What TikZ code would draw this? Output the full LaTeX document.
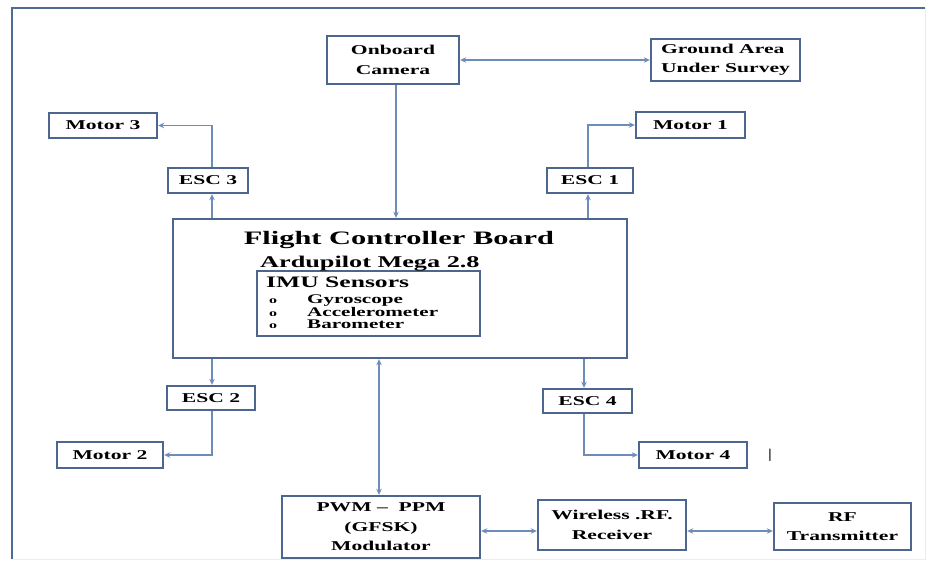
\documentclass[tikz,border=0pt]{standalone}
\usepackage{fontspec}
\setmainfont{Liberation Serif}[FakeStretch=1.6]
\usetikzlibrary{arrows.meta}
\definecolor{boxc}{HTML}{4C6690}
\definecolor{linec}{HTML}{6D8DB8}
\definecolor{framec}{HTML}{4F6A94}
\newcommand\myfs[2]{\fontsize{#1}{#2}\selectfont\bfseries}
\newcommand\mybul{\makebox[38pt][l]{\fontsize{10}{10}\selectfont o}}
\begin{document}
\begin{tikzpicture}[x=1pt,y=-1pt,
  box/.style={draw=boxc, line width=2.4pt, fill=white, inner sep=0pt, align=center, font=\myfs{13.5}{19.5}},
  conn/.style={draw=linec, line width=1.3pt, -{Stealth[length=6pt,width=5.5pt]}},
  both/.style={draw=linec, line width=1.3pt, {Stealth[length=6pt,width=5.5pt]}-{Stealth[length=6pt,width=5.5pt]}},
  txt/.style={inner sep=0pt}]
\useasboundingbox (0,0) rectangle (941,562);
\fill[white] (0,0) rectangle (941,562);
% frame
\draw[framec, line width=2.2pt] (12,559) -- (12,8) -- (925,8);
\draw[gray!15, line width=1pt] (925,8) -- (925,559) -- (12,559);
% boxes
\node[box, minimum width=132pt, minimum height=48pt] (cam) at (393,60) {Onboard\\Camera};
\node[box, minimum width=149pt, minimum height=42pt, align=left] (ground) at (725.5,60) {Ground Area\\Under Survey};
\node[box, minimum width=108pt, minimum height=25pt] (m3) at (103,125.5) {Motor 3};
\node[box, minimum width=80pt, minimum height=25pt] (e3) at (208,180.5) {ESC 3};
\node[box, minimum width=109pt, minimum height=26pt] (m1) at (690.5,125) {Motor 1};
\node[box, minimum width=86pt, minimum height=25pt] (e1) at (590,180.5) {ESC 1};
\node[box, minimum width=454pt, minimum height=139pt] (fcb) at (400,288.5) {};
\node[box, minimum width=223pt, minimum height=65pt] (imu) at (368.5,303.5) {};
\node[box, minimum width=88pt, minimum height=24pt] (e2) at (211,398) {ESC 2};
\node[box, minimum width=106pt, minimum height=26pt] (m2) at (110,455) {Motor 2};
\node[box, minimum width=89pt, minimum height=24pt] (e4) at (587.5,401) {ESC 4};
\node[box, minimum width=108pt, minimum height=26pt] (m4) at (693,455) {Motor 4};
\node[box, minimum width=198pt, minimum height=62pt] (pwm) at (381,527) {PWM --\ \ PPM\\(GFSK)\\Modulator};
\node[box, minimum width=148pt, minimum height=50pt] (wrx) at (612,525) {Wireless .RF.\\Receiver};
\node[box, minimum width=137pt, minimum height=47pt] (rftx) at (842.5,526.5) {RF\\Transmitter};
% FCB contents
\node[txt, font=\myfs{19}{19}, anchor=base] (title) at (399,244) {Flight Controller Board};
\node[txt, font=\myfs{16.4}{16}, anchor=base west] (ardu) at (260,267) {Ardupilot Mega 2.8};
\node[txt, font=\myfs{16}{16}, anchor=base west] (imut) at (266,287) {IMU Sensors};
\node[txt, font=\myfs{13.2}{11.5}, anchor=north west, align=left] (items) at (269,295) {\mybul Gyroscope\\\mybul Accelerometer\\\mybul Barometer};
\node[txt, font=\fontsize{13.5}{13.5}\selectfont] (cursor) at (770,455) {|};
% connector x/y positions
\coordinate (cx) at (396,0);
\coordinate (e3c) at (212,0);
\coordinate (e1c) at (588,0);
\coordinate (e2c) at (212,0);
\coordinate (e4c) at (584,0);
\coordinate (pc) at (379,0);
\coordinate (ay) at (0,531);
% connectors
\draw[both] (cam.east) -- (ground.west);
\draw[conn] (cam.south -| cx) -- (fcb.north -| cx);
\draw[conn] (fcb.north -| e3c) -- (e3.south -| e3c);
\draw[conn] (e3.north -| e3c) |- (m3.east);
\draw[conn] (fcb.north -| e1c) -- (e1.south -| e1c);
\draw[conn] (e1.north -| e1c) |- (m1.west);
\draw[conn] (fcb.south -| e2c) -- (e2.north -| e2c);
\draw[conn] (e2.south -| e2c) |- (m2.east);
\draw[conn] (fcb.south -| e4c) -- (e4.north -| e4c);
\draw[conn] (e4.south -| e4c) |- (m4.west);
\draw[both] (fcb.south -| pc) -- (pwm.north -| pc);
\draw[both] (pwm.east |- ay) -- (wrx.west |- ay);
\draw[both] (wrx.east |- ay) -- (rftx.west |- ay);
\end{tikzpicture}
\end{document}
